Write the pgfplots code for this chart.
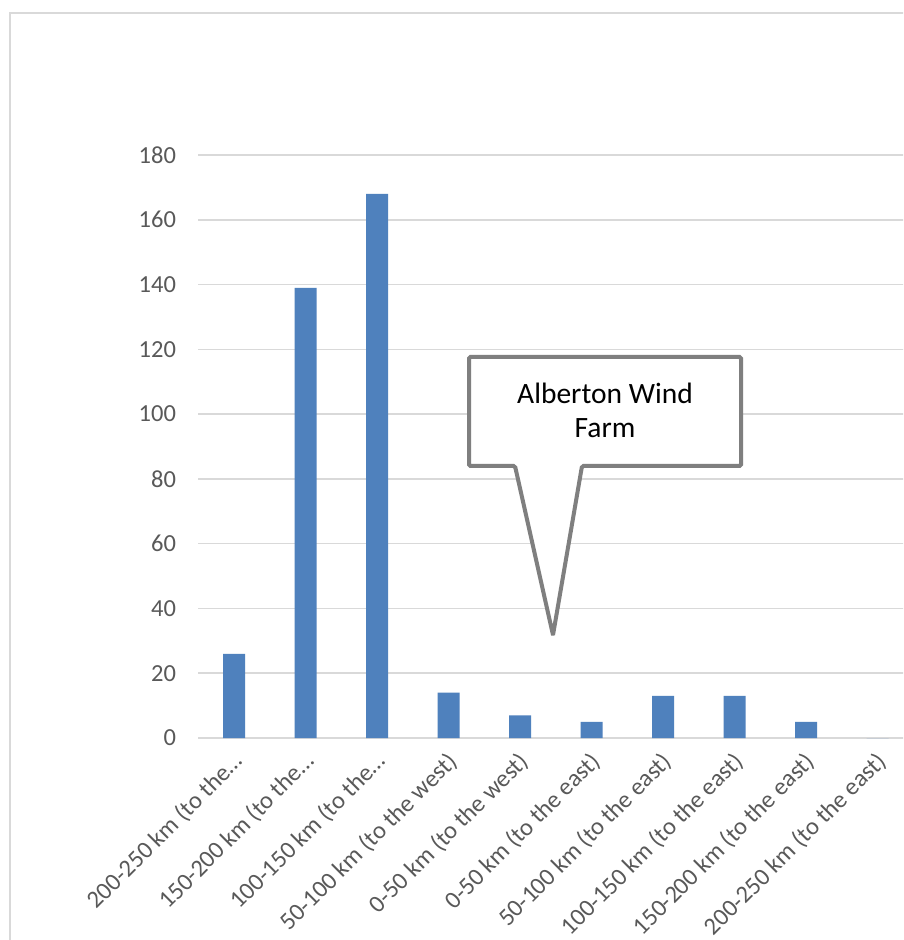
\documentclass[border=0pt]{standalone}
\usepackage{pgfplots}
\pgfplotsset{compat=1.18}
\usepackage{fontspec}
\setmainfont{Carlito}
\definecolor{barblue}{HTML}{4F81BD}
\definecolor{gridgray}{HTML}{D9D9D9}
\definecolor{ticktext}{HTML}{595959}
\definecolor{callgray}{HTML}{7F7F7F}
\begin{document}
\begin{tikzpicture}
\clip (0pt,0pt) rectangle (903pt,940pt);
\fill[white] (0pt,0pt) rectangle (903pt,940pt);
\draw[gridgray, line width=1.5pt] (10pt,0pt) -- (10pt,927pt) -- (910pt,927pt);
\begin{axis}[
  scale only axis,
  width=715pt, height=583pt,
  at={(198.45pt,202pt)}, anchor=south west,
  xmin=-0.5, xmax=9.5, ymin=0, ymax=180,
  ytick={0,20,...,180},
  xtick={0,...,9},
  xticklabels={200-250 km (to the…,150-200 km (to the…,100-150 km (to the…,50-100 km (to the west),0-50 km (to the west),0-50 km (to the east),50-100 km (to the east),100-150 km (to the east),150-200 km (to the east),200-250 km (to the east)},
  axis line style={draw=none},
  major tick length=0pt,
  ymajorgrids, grid style={gridgray, line width=1.5pt},
  tick label style={font=\fontsize{24.5}{29}\selectfont, text=ticktext},
  yticklabel style={anchor=east, xshift=-19pt},
  xticklabel style={rotate=45, anchor=north east, inner sep=0pt, xshift=-10.6pt, yshift=-6.4pt},
  /pgf/number format/assume math mode=true,
  clip=false,
]
\addplot[ybar, bar width=22pt, fill=barblue, draw=none] coordinates {
  (0,26) (1,139) (2,168) (3,14) (4,7) (5,5) (6,13) (7,13) (8,5) (9,0)
};
\end{axis}
\draw[callgray, line width=4pt, fill=white, rounded corners=1.5pt]
  (469pt,583pt) -- (741pt,583pt) -- (741pt,474pt) -- (582pt,474pt) -- (553pt,305pt) -- (515pt,474pt) -- (469pt,474pt) -- cycle;
\node[align=center, font=\fontsize{29.5}{34}\selectfont, text=black] at (605pt,530pt) {Alberton Wind\\Farm};
\end{tikzpicture}
\end{document}
